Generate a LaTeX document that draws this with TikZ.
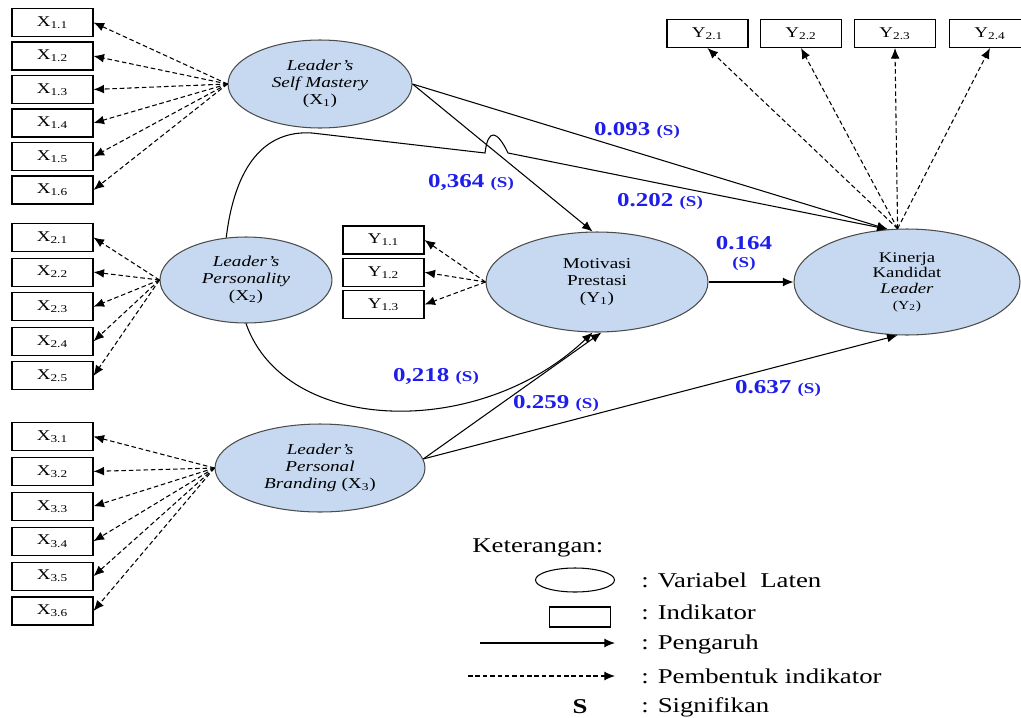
\documentclass[tikz,border=0pt]{standalone}
\usepackage{fontspec}
\setmainfont{Liberation Serif}[FakeStretch=1.27]
\usetikzlibrary{shapes.geometric,arrows.meta}

\definecolor{latenfill}{RGB}{198,217,240}
\definecolor{koefblue}{RGB}{30,30,235}

\tikzstyle{indikator} = [draw, rectangle, minimum width=1.62cm, minimum height=0.56cm, inner sep=0pt, font=\fontsize{8.5}{10}\selectfont]
\tikzstyle{laten} = [draw=black!70, fill=latenfill, ellipse, inner sep=0pt, align=center, font=\fontsize{8.6}{9.7}\selectfont]
\tikzstyle{koef} = [font=\fontsize{11.2}{13}\selectfont\bfseries, text=koefblue]
\tikzstyle{keterangan} = [font=\fontsize{12}{14}\selectfont, anchor=west]
\tikzstyle{pembentuk} = [->, dash pattern=on 2.6pt off 1.6pt]
\tikzstyle{pengaruh} = [->]
\newcommand{\sig}{{\fontsize{8.5}{10}\selectfont (S)}}

\begin{document}
\begin{tikzpicture}[>={Latex[length=6pt,width=5pt]}, x=0.02cm, y=-0.02cm, line width=0.6pt]

    \useasboundingbox (0,0) rectangle (1021,717);

    % latent variables
    \node at (320,84) [laten, minimum width=3.68cm, minimum height=1.76cm] (SM) {\textit{Leader’s}\\\textit{Self Mastery}\\(X\textsubscript{1})};
    \node at (246,280) [laten, minimum width=3.44cm, minimum height=1.72cm] (PE) {\textit{Leader’s}\\\textit{Personality}\\(X\textsubscript{2})};
    \node at (320,468) [laten, minimum width=4.2cm, minimum height=1.76cm] (PB) {\textit{Leader’s}\\\textit{Personal}\\\textit{Branding} (X\textsubscript{3})};
    \node at (597,282) [laten, minimum width=4.44cm, minimum height=2cm] (MP) {Motivasi\\Prestasi\\(Y\textsubscript{1})};
    \node at (907,282) [laten, minimum width=4.52cm, minimum height=2.12cm, font=\fontsize{8.4}{8.9}\selectfont] (KK) {Kinerja\\Kandidat\\\textit{Leader}\\{\fontsize{7}{8}\selectfont(Y\textsubscript{2})}};

    % indicators X1, X2, X3
    \foreach \i in {1,...,6}
        \node at (52.5,{22.5+33.5*(\i-1)}) [indikator] (sm\i) {X\textsubscript{1.\i}};
    \foreach \i in {1,...,5}
        \node at (52.5,{237.5+34.6*(\i-1)}) [indikator] (pe\i) {X\textsubscript{2.\i}};
    \foreach \i in {1,...,6}
        \node at (52.5,{436.5+34.9*(\i-1)}) [indikator] (pb\i) {X\textsubscript{3.\i}};

    % indicators Y1, Y2
    \foreach \i in {1,...,3}
        \node at (383.5,{240+32.3*(\i-1)}) [indikator] (mp\i) {Y\textsubscript{1.\i}};
    \foreach \i/\xx in {1/707.5,2/801,3/895,4/990}
        \node at (\xx,33.5) [indikator] (kk\i) {Y\textsubscript{2.\i}};

    % dashed indicator arrows
    \foreach \i in {1,...,6} \draw [pembentuk] (SM.west) -- (sm\i.east);
    \foreach \i in {1,...,5} \draw [pembentuk] (PE.west) -- (pe\i.east);
    \foreach \i in {1,...,6} \draw [pembentuk] (PB.west) -- (pb\i.east);
    \foreach \i in {1,...,3} \draw [pembentuk] (MP.west) -- (mp\i.east);
    \foreach \i in {1,...,4} \draw [pembentuk] (KK.100) -- (kk\i.south);

    % structural paths
    \draw [pengaruh] (SM.east) -- (MP.95);
    \draw [pengaruh] (SM.east) -- (KK.110);
    \draw [pengaruh] (PE.115) .. controls (235,165) and (265,130) .. (312,133) -- (485,153)
        .. controls (488,128) and (497,130) .. (508,153) -- (KK.110);
    \draw [pengaruh] (PE.south) .. controls (285,435) and (480,440) .. (MP.265);
    \draw [pengaruh] (PB.5) -- (MP.275);
    \draw [pengaruh] (PB.5) -- (KK.260);
    \draw [pengaruh] (MP.east) -- (KK.west);

    % path coefficients
    \node at (637,131) [koef] (k1) {0.093 \sig};
    \node at (471,183) [koef] (k2) {0,364 \sig};
    \node at (660,202) [koef] (k3) {0.202 \sig};
    \node at (744,243) [koef] (k4) {0.164};
    \node at (744,264) [koef] (k4s) {\sig};
    \node at (436,377) [koef] (k5) {0,218 \sig};
    \node at (556,404) [koef] (k6) {0.259 \sig};
    \node at (778,389) [koef] (k7) {0.637 \sig};

    % legend
    \node at (466,548) [keterangan] (ket) {Keterangan:};
    \node at (575,580) [draw, ellipse, minimum width=1.58cm, minimum height=0.48cm, inner sep=0pt] (legL) {};
    \node at (635,580) [keterangan] (tL) {: Variabel\ \ Laten};
    \node at (580,617) [draw, rectangle, minimum width=1.22cm, minimum height=0.4cm, inner sep=0pt] (legI) {};
    \node at (635,612) [keterangan] (tI) {: Indikator};
    \coordinate (pA) at (480,643);
    \coordinate (pB) at (615,643);
    \draw [pengaruh] (pA) -- (pB);
    \node at (635,644) [keterangan] (tP) {: Pengaruh};
    \coordinate (dA) at (468,676);
    \coordinate (dB) at (615,676);
    \draw [pembentuk] (dA) -- (dB);
    \node at (635,676) [keterangan] (tD) {: Pembentuk indikator};
    \node at (580,707) [font=\fontsize{12}{14}\selectfont\bfseries] (legS) {S};
    \node at (635,707) [keterangan] (tS) {: Signifikan};

\end{tikzpicture}
\end{document}
